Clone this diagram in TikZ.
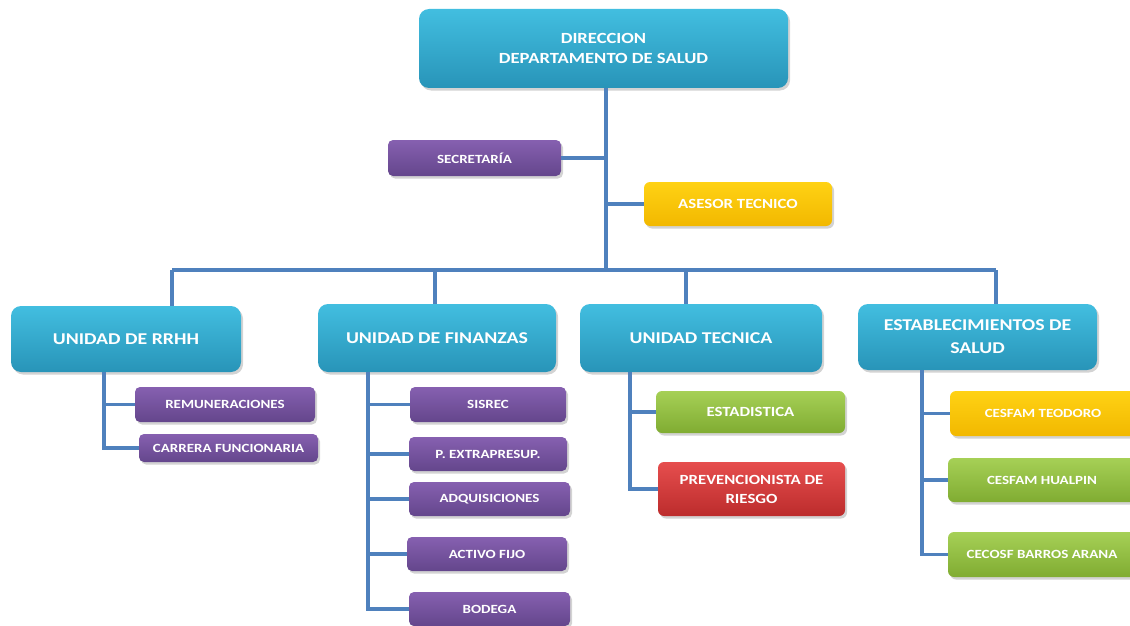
\documentclass[tikz,border=0pt]{standalone}
\usepackage{fontspec}
\setmainfont[FakeStretch=1.2]{Carlito}
\usetikzlibrary{shadows}
\definecolor{blueT}{RGB}{66,190,224}
\definecolor{blueB}{RGB}{40,148,184}
\definecolor{purT}{RGB}{134,96,176}
\definecolor{purB}{RGB}{100,70,140}
\definecolor{yelT}{RGB}{255,210,20}
\definecolor{yelB}{RGB}{242,184,0}
\definecolor{grnT}{RGB}{166,208,86}
\definecolor{grnB}{RGB}{128,172,50}
\definecolor{redT}{RGB}{230,78,78}
\definecolor{redB}{RGB}{188,44,44}
\definecolor{lineblue}{RGB}{79,129,189}
\tikzset{
  base/.style={draw=none, text=white, align=center, inner sep=0pt,
    drop shadow={shadow xshift=2pt, shadow yshift=-2.5pt, opacity=0.35}},
  sz/.style 2 args={minimum width=#1, minimum height=#2},
  bluebox/.style={base, rounded corners=10pt, top color=blueT, bottom color=blueB, font=\bfseries\fontsize{15.5}{20}\selectfont},
  unitfont/.style={font=\bfseries\fontsize{16.5}{23}\selectfont},
  purbox/.style={base, rounded corners=5pt, top color=purT, bottom color=purB, font=\bfseries\fontsize{12.5}{15}\selectfont},
  yelbox/.style={base, rounded corners=6pt, top color=yelT, bottom color=yelB, font=\bfseries\fontsize{12.5}{16}\selectfont},
  grnbox/.style={base, rounded corners=6pt, top color=grnT, bottom color=grnB, font=\bfseries\fontsize{12.5}{16}\selectfont},
  redbox/.style={base, rounded corners=6pt, top color=redT, bottom color=redB, font=\bfseries\fontsize{14}{19}\selectfont},
  medfont/.style={font=\bfseries\fontsize{14}{16}\selectfont},
  link/.style={draw=lineblue, line width=3.2pt}
}
\begin{document}
\begin{tikzpicture}[x=1pt,y=-1pt]
\useasboundingbox (0,0) rectangle (1130,626);
% nodes
\node[bluebox, sz={369pt}{79pt}] (top) at (603.5,48.5) {DIRECCION\\DEPARTAMENTO DE SALUD};
\node[purbox, sz={173pt}{36pt}] (secr) at (474.5,158) {SECRETARÍA};
\node[yelbox, medfont, sz={188pt}{44pt}] (asesor) at (738,204) {ASESOR TECNICO};
\node[bluebox, unitfont, sz={230pt}{66pt}] (rrhh) at (126,339) {UNIDAD DE RRHH};
\node[bluebox, unitfont, sz={238pt}{68pt}] (fin) at (437,338) {UNIDAD DE FINANZAS};
\node[bluebox, unitfont, sz={242pt}{68pt}] (tec) at (701,338) {UNIDAD TECNICA};
\node[bluebox, unitfont, sz={239pt}{66pt}] (est) at (977.5,337) {ESTABLECIMIENTOS DE\\SALUD};
% RRHH children
\node[purbox, sz={180pt}{35pt}] (remu) at (225,404.5) {REMUNERACIONES};
\node[purbox, sz={179pt}{28pt}] (carr) at (228.5,448) {CARRERA FUNCIONARIA};
% Finanzas children
\node[purbox, sz={156pt}{35pt}] (sisrec) at (488,404.5) {SISREC};
\node[purbox, sz={158pt}{34pt}] (extra) at (488,454) {P. EXTRAPRESUP.};
\node[purbox, sz={161pt}{34pt}] (adq) at (489.5,499) {ADQUISICIONES};
\node[purbox, sz={160pt}{34pt}] (activo) at (487,554) {ACTIVO FIJO};
\node[purbox, sz={161pt}{34pt}] (bodega) at (489.5,609) {BODEGA};
% Tecnica children
\node[grnbox, medfont, sz={189pt}{42pt}] (estad) at (750.5,412) {ESTADISTICA};
\node[redbox, sz={187pt}{54pt}] (prev) at (751.5,489) {PREVENCIONISTA DE\\RIESGO};
% Establecimientos children
\node[yelbox, sz={200pt}{45pt}] (teod) at (1050,413.5) {\hspace*{-14pt}CESFAM TEODORO};
\node[grnbox, sz={202pt}{44pt}] (hual) at (1049,480) {\hspace*{-14pt}CESFAM HUALPIN};
\node[grnbox, sz={202pt}{45pt}] (cecosf) at (1049,554.5) {\hspace*{-14pt}CECOSF BARROS ARANA};
% junction coordinates
\coordinate (trunk) at (606,270);
\coordinate (d1) at (172,270);
\coordinate (d2) at (435,270);
\coordinate (d3) at (686,270);
\coordinate (d4) at (996,270);
\coordinate (s1) at (104,0);
\coordinate (s2) at (368,0);
\coordinate (s3) at (630,0);
\coordinate (s4) at (922,0);
% connectors
\draw[link] (top.south -| trunk) -- (trunk);
\draw[link] (secr.east) -- (secr.east -| trunk);
\draw[link] (asesor.west) -- (asesor.west -| trunk);
\draw[link] (d1) -- (d4);
\draw[link] (d1) -- (d1 |- rrhh.north);
\draw[link] (d2) -- (d2 |- fin.north);
\draw[link] (d3) -- (d3 |- tec.north);
\draw[link] (d4) -- (d4 |- est.north);
\draw[link] (s1 |- rrhh.south) -- (s1 |- carr.west) -- (carr.west);
\draw[link] (s1 |- remu.west) -- (remu.west);
\draw[link] (s2 |- fin.south) -- (s2 |- bodega.west) -- (bodega.west);
\draw[link] (s2 |- sisrec.west) -- (sisrec.west);
\draw[link] (s2 |- extra.west) -- (extra.west);
\draw[link] (s2 |- adq.west) -- (adq.west);
\draw[link] (s2 |- activo.west) -- (activo.west);
\draw[link] (s3 |- tec.south) -- (s3 |- prev.west) -- (prev.west);
\draw[link] (s3 |- estad.west) -- (estad.west);
\draw[link] (s4 |- est.south) -- (s4 |- cecosf.west) -- (cecosf.west);
\draw[link] (s4 |- teod.west) -- (teod.west);
\draw[link] (s4 |- hual.west) -- (hual.west);
\end{tikzpicture}
\end{document}
